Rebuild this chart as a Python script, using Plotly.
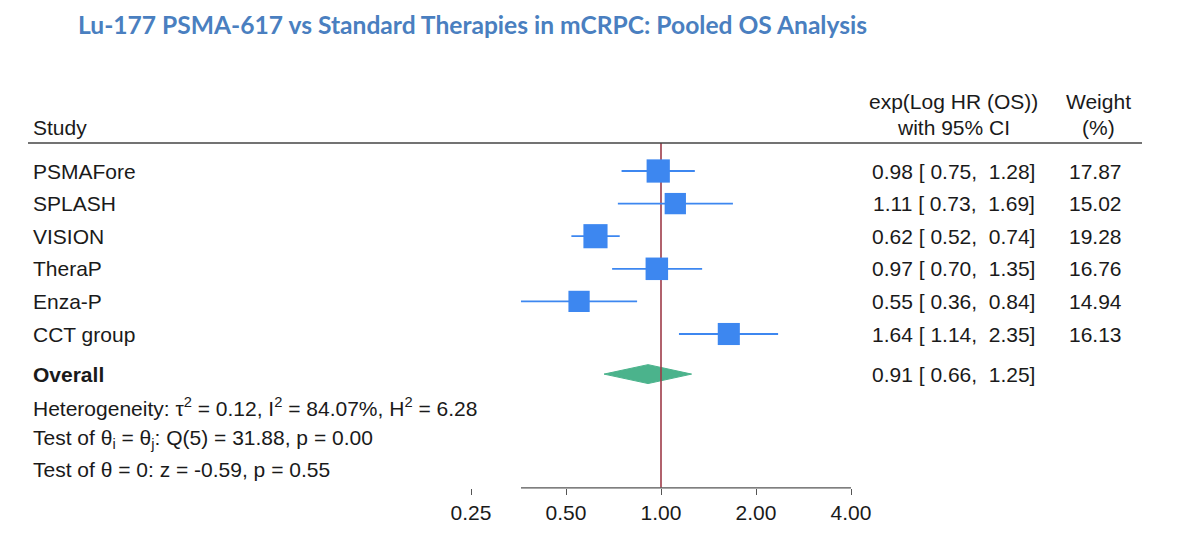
import math
import plotly.graph_objects as go

# ---------------- data ----------------
studies = ["PSMAFore", "SPLASH", "VISION", "TheraP", "Enza-P", "CCT group"]
hr = [0.98, 1.11, 0.62, 0.97, 0.55, 1.64]
ci_lo = [0.75, 0.73, 0.52, 0.70, 0.36, 1.14]
ci_hi = [1.28, 1.69, 0.74, 1.35, 0.84, 2.35]
weights = [17.87, 15.02, 19.28, 16.76, 14.94, 16.13]
overall_hr, overall_lo, overall_hi = 0.91, 0.66, 1.25
tick_vals = [0.25, 0.5, 1.0, 2.0, 4.0]
tick_text = ["0.25", "0.50", "1.00", "2.00", "4.00"]

title = "Lu-177 PSMA-617 vs Standard Therapies in mCRPC: Pooled OS Analysis"
het_lines = [
    "Heterogeneity: τ<sup>2</sup> = 0.12, I<sup>2</sup> = 84.07%, H<sup>2</sup> = 6.28",
    "Test of θ<sub>i</sub> = θ<sub>j</sub>: Q(5) = 31.88, p = 0.00",
    "Test of θ = 0: z = -0.59, p = 0.55",
]

# ---------------- layout constants ----------------
W, H = 1200, 546
FONT = "Liberation Sans, Arial, sans-serif"
FS = 21
BLUE = "#3d87f0"
GREEN = "#4bb38c"
RED = "#9e3a48"
TXT = "#1a1a1a"

rows = list(range(len(studies)))          # 0..5
y_overall = 6.23
y_het = [7.24, 8.22, 9.17]
y_head_line = -0.86
y_axis = 9.72
row_px = 32.6
top_px = 171

# x: 1.00 at px 661, 95 px per doubling
px_per_log10 = 95 / math.log10(2)
x0 = -661 / px_per_log10
x1 = (W - 661) / px_per_log10

fig = go.Figure()

# diamond (overall)
d = 0.29
fig.add_trace(go.Scatter(
    x=[overall_lo, overall_hr, overall_hi, overall_hr, overall_lo],
    y=[y_overall, y_overall - d, y_overall, y_overall + d, y_overall],
    mode="lines", fill="toself", fillcolor=GREEN,
    line=dict(color=GREEN, width=1), hoverinfo="skip", showlegend=False))

# reference line at 1
fig.add_trace(go.Scatter(
    x=[1, 1], y=[y_head_line, y_axis], mode="lines",
    line=dict(color=RED, width=1.6), hoverinfo="skip", showlegend=False))

# CI lines
cx, cy = [], []
for r, lo, hi in zip(rows, ci_lo, ci_hi):
    cx += [lo, hi, None]
    cy += [r, r, None]
fig.add_trace(go.Scatter(x=cx, y=cy, mode="lines",
                         line=dict(color=BLUE, width=1.8),
                         hoverinfo="skip", showlegend=False))

# squares
fig.add_trace(go.Scatter(
    x=hr, y=rows, mode="markers",
    marker=dict(symbol="square", color=BLUE, opacity=1,
                size=[5.5 * math.sqrt(w) for w in weights],
                line=dict(width=0)),
    hoverinfo="skip", showlegend=False))

# axis line from min CI to max tick
fig.add_shape(type="line", xref="x", yref="y",
              x0=min(ci_lo), x1=max(tick_vals), y0=y_axis, y1=y_axis,
              line=dict(color="#555555", width=1.3))
# header line
fig.add_shape(type="line", xref="paper", yref="y",
              x0=28 / W, x1=1142 / W, y0=y_head_line, y1=y_head_line,
              line=dict(color="#444444", width=1.6))

ann = []
def add_text(x_px, y, text, anchor="left", size=FS, bold=False, color=TXT):
    if bold:
        text = "<b>" + text + "</b>"
    ann.append(dict(x=x_px / W, y=y, xref="paper", yref="y", text=text,
                    showarrow=False, xanchor=anchor, yanchor="middle",
                    font=dict(family=FONT, size=size, color=color)))

# headers
add_text(31, -1.32, "Study")
add_text(953, -2.14, "exp(Log HR (OS))", anchor="center")
add_text(953, -1.32, "with 95% CI", anchor="center")
add_text(1098, -2.14, "Weight", anchor="center")
add_text(1098, -1.32, "(%)", anchor="center")

for r, s, h, lo, hi, w in zip(rows, studies, hr, ci_lo, ci_hi, weights):
    add_text(31, r, s)
    add_text(1037, r, f"{h:.2f} [ {lo:.2f},  {hi:.2f}]", anchor="right")
    add_text(1124, r, f"{w:.2f}", anchor="right")

add_text(31, y_overall, "Overall", bold=True)
add_text(1037, y_overall, f"{overall_hr:.2f} [ {overall_lo:.2f},  {overall_hi:.2f}]", anchor="right")
for yy, t in zip(y_het, het_lines):
    add_text(31, yy, t)

# title
ann.append(dict(x=76 / W, y=1 - 25 / H, xref="paper", yref="paper",
                text="<b>" + title + "</b>", showarrow=False,
                xanchor="left", yanchor="middle",
                font=dict(family="Lato, Open Sans, sans-serif", size=24.6, color="#4a7fc0")))

fig.update_layout(
    width=W, height=H,
    margin=dict(l=0, r=0, t=0, b=0),
    paper_bgcolor="white", plot_bgcolor="white",
    annotations=ann,
    xaxis=dict(type="log", range=[x0, x1], domain=[0, 1],
               showgrid=False, zeroline=False, showline=False,
               tickvals=tick_vals, ticktext=tick_text,
               ticks="outside", ticklen=6, tickcolor="#555555", tickwidth=1.3,
               tickfont=dict(family=FONT, size=FS, color=TXT),
               anchor="free", position=1 - (top_px + y_axis * row_px) / H),
    yaxis=dict(range=[(H - top_px) / row_px, -top_px / row_px], domain=[0, 1],
               visible=False),
)

fig.write_html("out.html")
